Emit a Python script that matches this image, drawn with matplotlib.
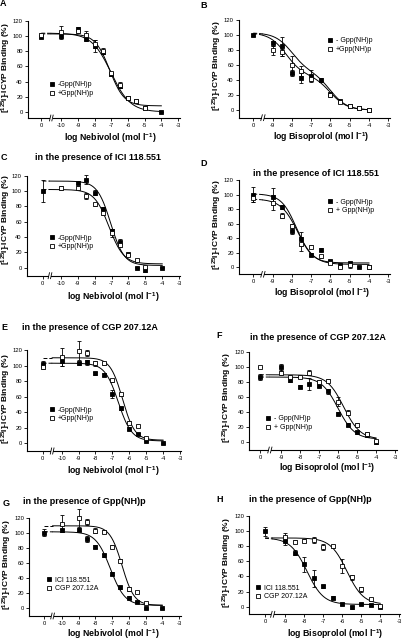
import numpy as np
import matplotlib
matplotlib.use("Agg")
import matplotlib.pyplot as plt
from matplotlib.lines import Line2D
import matplotlib.transforms as mtransforms

plt.rcParams['font.family'] = ['Liberation Sans', 'DejaVu Sans']
plt.rcParams['mathtext.fontset'] = 'custom'
plt.rcParams['mathtext.rm'] = 'Liberation Sans:bold'
plt.rcParams['mathtext.bf'] = 'Liberation Sans:bold'
plt.rcParams['mathtext.it'] = 'Liberation Sans:bold:italic'
plt.rcParams['axes.unicode_minus'] = False

W, H = 403, 640

# ---------------- data ----------------
NEB_X = [-10, -9, -8.5, -8, -7.5, -7, -6.5, -6, -5.5, -5, -4]
BIS_X = [-9, -8.5, -8, -7.5, -7, -6.5, -6, -5.5, -5, -4.5, -4]
NEB_TICKS = [-10, -9, -8, -7, -6, -5, -4, -3]
BIS_TICKS = [-9, -8, -7, -6, -5, -4, -3]
Y_TICKS = [0, 20, 40, 60, 80, 100, 120]

nan = np.nan
# control (x = 0) values: [filled, open], errors
A_ctrl = [99, 102]; A_ctrl_err = [2, 2]
A_fill = [100, 109, 96, 87, 79, 50, 34, 19, 14, 5, 0]
A_fill_err = [4, 3, 3, 8, 3, 2, 2, 1, 1, 1, 0]
A_open = [106, 107, 101, 90, 81, 51, 36, 19, 15, 5, nan]
A_open_err = [8, 3, 6, 5, 4, 2, 4, 2, 1, 1, 0]
A_fit_fill = [104, 0, -7.02, -7.02, 1.0, 0.75]   # top, bottom, logIC50a, logIC50b, fraction a, slope
A_fit_open = [103, 8, -7.1, -7.1, 1.0, 1.0]

B_ctrl = [100, nan]; B_ctrl_err = [1, 0]
B_fill = [89, 85, 50, 43, 46, 40, 21, 11.5, 5, 3, 0]
B_fill_err = [3, 13, 4, 7, 7, 3, 2, 1, 1, 1, 1]
B_open = [80, 77, 60, 52, 41, nan, 20, 11, 5, 3, 0]
B_open_err = [6, 5, 12, 7, 3, 0, 2, 1, 1, 1, 1]
B_fit_fill = [103, 0, -8.3, -6.0, 0.55, 1.0]
B_fit_open = [103, 0, -8.0, -6.0, 0.5, 1.0]

C_ctrl = [100, nan]; C_ctrl_err = [14, 0]
C_fill = [nan, 111, 115, 98, 77, 48, 34, 17.4, 0, -3, 0]
C_fill_err = [0, 2, 6, 3, 2, 3, 3, 2, 1, 2, 1]
C_open = [104, 104, 93.5, 82.6, 71, 45.6, 29, 16.5, 10, 0.5, nan]
C_open_err = [2, 2, 4, 2, 2, 5, 2, 1, 1, 2, 0]
C_fit_fill = [113, 3, -7.05, -7.05, 1.0, 1.1]
C_fit_open = [102, 5, -7.15, -7.15, 1.0, 1.0]

D_ctrl = [100, 95]; D_ctrl_err = [10, 5]
D_fill = [97, 83, 50, 39, 17, 24, 9, 3, 5.5, 1, 1]
D_fill_err = [12, 3, 4, 10, 2, 2, 1, 2, 2, 1, 1]
D_open = [89, 71, 57, 32, 28, 15, 5.5, 0, 3, nan, 0]
D_open_err = [10, 3, 2, 10, 2, 2, 1, 1, 4, 0, 1]
D_fit_fill = [101, 6, -7.75, -7.75, 1.0, 1.1]
D_fit_open = [94, 4, -7.7, -7.7, 1.0, 1.0]

E_ctrl = [101.6, 98.6]; E_ctrl_err = [4, 3]
E_fill = [106, 103, 104, 90, 88, 63, 45, 19, 12, 3.4, 0]
E_fill_err = [6, 2, 3, 2, 2, 5, 2, 2, 1, 1, 1]
E_open = [111, 119, 116, 103, 103, 81, 63, 26.6, 22, 6.4, nan]
E_open_err = [12, 12, 4, 3, 2, 2, 2, 2, 1, 1, 0]
E_fit_fill = [103, 3, -6.65, -6.65, 1.0, 1.1]
E_fit_open = [110, 4, -6.4, -6.4, 1.0, 1.2]

F_ctrl = [87.6, 101]; F_ctrl_err = [4, 0]
F_fill = [100, 83, 74, 78, 75.5, 68, 38, 23, 13, 10, 0]
F_fill_err = [5, 2, 2, 8, 2, 3, 2, 2, 2, 2, 2]
F_open = [93, 87.5, 87.5, 93, 81, 82, 54, 39.5, 23, 11, 1]
F_open_err = [3, 2, 2, 3, 2, 2, 6, 3, 2, 2, 1]
F_fit_fill = [87, 4, -6.0, -6.0, 1.0, 1.0]
F_fit_open = [90, 4, -5.7, -5.7, 1.0, 1.0]

G_ctrl = [101, nan]; G_ctrl_err = [5, 0]
G_fill = [104.4, 105, 93, 82, 71, 46, 28, 14, 9, 0, 0]
G_fill_err = [2, 2, 4, 2, 2, 2, 2, 2, 1, 1, 1]
G_open = [113, 120, 115, 103.5, 102, 82, 63.5, 26, 22, 6.7, nan]
G_open_err = [11, 12, 4, 3, 2, 2, 2, 3, 1, 1, 0]
G_fit_fill = [102, 4, -7.1, -7.1, 1.0, 1.0]
G_fit_open = [110, 4, -6.4, -6.4, 1.0, 1.2]

H_ctrl = [100, nan]; H_ctrl_err = [6, 0]
H_fill = [87, 71.5, 56, 37.5, 27, 12, 3.5, -1, 3.5, 2, 0]
H_fill_err = [5, 3, 10, 11, 2, 2, 1, 2, 1, 1, 1]
H_open = [92.6, 86, 87, 88, 79, 80, 54, 39, 23, 10, 1]
H_open_err = [5, 2, 2, 4, 4, 2, 9, 3, 3, 2, 1]
H_fit_fill = [91, 3, -7.85, -7.85, 1.0, 1.0]
H_fit_open = [91, 3, -5.75, -5.75, 1.0, 1.0]

LEG_GPP = ['-Gpp(NH)p', '+Gpp(NH)p']
LEG_GPP_B = ['- Gpp(NH)p', '+Gpp(NH)p']
LEG_GPP_D = ['- Gpp(NH)p', '+ Gpp(NH)p']
LEG_ANT = ['ICI 118.551', 'CGP 207.12A']
TITLES = {'C': 'in the presence of ICI 118.551', 'D': 'in the presence of ICI 118.551',
          'E': 'in the presence of CGP 207.12A', 'F': 'in the presence of CGP 207.12A',
          'G': 'in the presence of Gpp(NH)p', 'H': 'in the presence of Gpp(NH)p'}
XLAB_NEB = 'log Nebivolol (mol l$^{-1}$)'
XLAB_BIS = 'log Bisoprolol (mol l$^{-1}$)'
YLAB = '[$^{125}$I]-ICYP Binding (%)'


def fit_curve(x, p):
    top, bot, ic_a, ic_b, frac, h = p
    s = frac / (1 + 10 ** ((x - ic_a) * h)) + (1 - frac) / (1 + 10 ** ((x - ic_b) * h))
    return bot + (top - bot) * s


# panel layout in pixels: x0, x1, ytop(=120), ybot ; xlim, ylim bottom, control pos, break pos
panels = [
    dict(key='A', rect=(28, 180, 21, 118), xlim=(-12.0, -2.88), ybot=-8, ctrl=-11.2, brk=-10.6,
         xs=NEB_X, ticks=NEB_TICKS, ctrl_v=A_ctrl, ctrl_e=A_ctrl_err, f=A_fill, fe=A_fill_err,
         o=A_open, oe=A_open_err, pf=A_fit_fill, po=A_fit_open, leg=LEG_GPP, legpos=(52, 86),
         xlab=XLAB_NEB, xlabpos=(110, 138), ylabpos=(6.5, 68), letter=(3, 4)),
    dict(key='B', rect=(239, 390, 20, 117.7), xlim=(-10.74, -2.91), ybot=-10.2, ctrl=-10.0, brk=-9.5,
         xs=BIS_X, ticks=BIS_TICKS, ctrl_v=B_ctrl, ctrl_e=B_ctrl_err, f=B_fill, fe=B_fill_err,
         o=B_open, oe=B_open_err, pf=B_fit_fill, po=B_fit_open, leg=LEG_GPP_B, legpos=(330, 42),
         xlab=XLAB_BIS, xlabpos=(321, 137), ylabpos=(217, 66), letter=(204, 5)),
    dict(key='C', rect=(27, 180, 175.7, 275.7), xlim=(-12.0, -2.95), ybot=-10.4, ctrl=-11.08, brk=-10.64,
         xs=NEB_X, ticks=NEB_TICKS, ctrl_v=C_ctrl, ctrl_e=C_ctrl_err, f=C_fill, fe=C_fill_err,
         o=C_open, oe=C_open_err, pf=C_fit_fill, po=C_fit_open, leg=LEG_GPP, legpos=(52, 239),
         xlab=XLAB_NEB, xlabpos=(113, 297), ylabpos=(6.5, 220), letter=(4, 158), title=(98, 158)),
    dict(key='D', rect=(239, 390, 180, 274.3), xlim=(-10.74, -2.91), ybot=-9.6, ctrl=-10.0, brk=-9.5,
         xs=BIS_X, ticks=BIS_TICKS, ctrl_v=D_ctrl, ctrl_e=D_ctrl_err, f=D_fill, fe=D_fill_err,
         o=D_open, oe=D_open_err, pf=D_fit_fill, po=D_fit_open, leg=LEG_GPP_D, legpos=(330, 203),
         xlab=XLAB_BIS, xlabpos=(322, 293), ylabpos=(217, 225), letter=(204, 163), title=(316, 173)),
    dict(key='E', rect=(27.3, 181, 350, 451), xlim=(-12.03, -2.94), ybot=-9.9, ctrl=-11.12, brk=-10.56,
         xs=NEB_X, ticks=NEB_TICKS, ctrl_v=E_ctrl, ctrl_e=E_ctrl_err, f=E_fill, fe=E_fill_err,
         o=E_open, oe=E_open_err, pf=E_fit_fill, po=E_fit_open, leg=LEG_GPP, legpos=(52, 411),
         xlab=XLAB_NEB, xlabpos=(113, 471), ylabpos=(6.5, 399), letter=(4, 327), title=(90, 327)),
    dict(key='F', rect=(249.3, 397, 352.3, 450), xlim=(-10.66, -2.9), ybot=-10.4, ctrl=-10.1, brk=-9.58,
         xs=BIS_X, ticks=BIS_TICKS, ctrl_v=F_ctrl, ctrl_e=F_ctrl_err, f=F_fill, fe=F_fill_err,
         o=F_open, oe=F_open_err, pf=F_fit_fill, po=F_fit_open, leg=LEG_GPP_D, legpos=(268, 420),
         xlab=XLAB_BIS, xlabpos=(327, 468), ylabpos=(227, 398), letter=(219, 336), title=(318, 337)),
    dict(key='G', rect=(29.3, 181, 518.3, 616), xlim=(-11.94, -2.88), ybot=-10.2, ctrl=-11.06, brk=-10.55,
         xs=NEB_X, ticks=NEB_TICKS, ctrl_v=G_ctrl, ctrl_e=G_ctrl_err, f=G_fill, fe=G_fill_err,
         o=G_open, oe=G_open_err, pf=G_fit_fill, po=G_fit_open, leg=LEG_ANT, legpos=(49, 581),
         xlab=XLAB_NEB, xlabpos=(113, 634), ylabpos=(7, 565), letter=(6, 503), title=(84, 502)),
    dict(key='H', rect=(249.3, 400, 516, 614.3), xlim=(-10.88, -2.96), ybot=-10.0, ctrl=-10.05, brk=-9.65,
         xs=BIS_X, ticks=BIS_TICKS, ctrl_v=H_ctrl, ctrl_e=H_ctrl_err, f=H_fill, fe=H_fill_err,
         o=H_open, oe=H_open_err, pf=H_fit_fill, po=H_fit_open, leg=LEG_ANT, legpos=(258, 589),
         xlab=XLAB_BIS, xlabpos=(335, 634), ylabpos=(227, 563), letter=(220, 500), title=(310, 500)),
]

fig = plt.figure(figsize=(W / 100, H / 100), dpi=100)


def fx(px):
    return px / W


def fy(py):
    return 1 - py / H


MS = 3.0
LW = 0.7

for p in panels:
    x0, x1, yt, yb = p['rect']
    ax = fig.add_axes([fx(x0), fy(yb), (x1 - x0) / W, (yb - yt) / H])
    ax.set_xlim(*p['xlim'])
    ax.set_ylim(p['ybot'], 120)
    for s in ['top', 'right']:
        ax.spines[s].set_visible(False)
    for s in ['left', 'bottom']:
        ax.spines[s].set_linewidth(0.8)
    ax.set_yticks(Y_TICKS)
    ax.set_xticks([p['ctrl']] + p['ticks'])
    ax.set_xticklabels(['0'] + [str(t) for t in p['ticks']])
    ax.tick_params(direction='out', length=2.5, width=0.6, labelsize=4.2, pad=1.2)

    # fitted curves: dashed over the break region, solid afterwards
    for prm in (p['pf'], p['po']):
        xd = np.linspace(p['ctrl'], p['brk'], 30)
        xs_ = np.linspace(p['brk'], -4.0, 200)
        ax.plot(xd, fit_curve(xd, prm), color='black', lw=LW, ls=(0, (4, 2)))
        ax.plot(xs_, fit_curve(xs_, prm), color='black', lw=LW)

    xs = np.array(p['xs'], dtype=float)
    # series: filled (first) and open (second)
    for vals, errs, idx, face in ((p['f'], p['fe'], 0, 'black'), (p['o'], p['oe'], 1, 'white')):
        xv = np.concatenate([[p['ctrl']], xs])
        yv = np.concatenate([[p['ctrl_v'][idx]], np.array(vals, dtype=float)])
        ev = np.concatenate([[p['ctrl_e'][idx]], np.array(errs, dtype=float)])
        ax.errorbar(xv, yv, yerr=ev, fmt='s', ms=MS, mfc=face, mec='black', mew=0.6,
                    ecolor='black', elinewidth=0.6, capsize=1.5, capthick=0.6,
                    clip_on=False, zorder=3 + idx)

    # axis break marks
    trans = mtransforms.blended_transform_factory(ax.transData, ax.transAxes)
    gap = 0.14
    ax.add_patch(plt.Rectangle((p['brk'] - gap / 2, -0.02), gap, 0.04, transform=trans,
                               facecolor='white', edgecolor='none', clip_on=False, zorder=5))
    for dx in (-gap / 2, gap / 2):
        ax.plot([p['brk'] + dx - 0.04, p['brk'] + dx + 0.04], [-0.03, 0.03], transform=trans,
                color='black', lw=0.6, clip_on=False, zorder=6)

    # legend
    handles = [Line2D([], [], ls='none', marker='s', ms=MS, mfc='black', mec='black', mew=0.6),
               Line2D([], [], ls='none', marker='s', ms=MS, mfc='white', mec='black', mew=0.6)]
    lx, ly = p['legpos']
    leg = ax.legend(handles, p['leg'], loc='upper left',
                    bbox_to_anchor=(fx(lx - 3.5), fy(ly - 4.5)), bbox_transform=fig.transFigure,
                    frameon=False, fontsize=5, handlelength=1.0, handletextpad=0.3,
                    labelspacing=0.25, borderpad=0, borderaxespad=0)

    # labels
    fig.text(fx(p['xlabpos'][0]), fy(p['xlabpos'][1]), p['xlab'], ha='center', va='center',
             fontsize=6.3, fontweight='bold')
    fig.text(fx(p['ylabpos'][0]), fy(p['ylabpos'][1]), YLAB, ha='center', va='center',
             rotation=90, fontsize=6.0, fontweight='bold')
    fig.text(fx(p['letter'][0]), fy(p['letter'][1]), p['key'], ha='center', va='center',
             fontsize=6.5, fontweight='bold')
    if 'title' in p:
        fig.text(fx(p['title'][0]), fy(p['title'][1]), TITLES[p['key']], ha='center', va='center',
                 fontsize=6.5, fontweight='bold')

fig.savefig('out.png', dpi=100)
